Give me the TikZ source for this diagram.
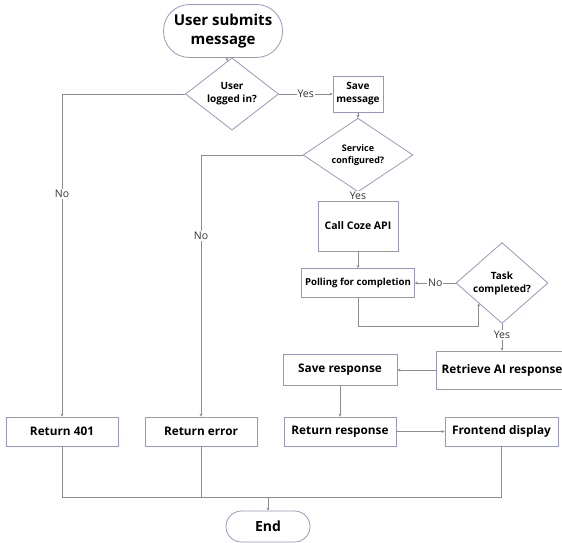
\documentclass[tikz,border=0pt]{standalone}
\usepackage{fontspec}
\setmainfont{Open Sans}
\usetikzlibrary{shapes.geometric,arrows.meta}
\definecolor{bord}{RGB}{150,152,190}
\definecolor{conn}{RGB}{140,140,150}
\begin{document}
\begin{tikzpicture}[x=1pt,y=-1pt,
  box/.style={draw=bord,line width=0.8pt,fill=white,rectangle,inner sep=0pt,align=center,font=\fontsize{11.8}{14}\selectfont\bfseries},
  dia/.style={draw=bord,line width=0.8pt,fill=white,diamond,inner sep=0pt,align=center,font=\fontsize{10}{13}\selectfont\bfseries},
  term/.style={draw=bord,line width=0.8pt,fill=white,rectangle,inner sep=0pt,align=center,font=\fontsize{15}{19}\selectfont\bfseries},
  line/.style={draw=conn,line width=0.7pt},
  arr/.style={line,-{Stealth[length=3pt,width=3pt]}},
  lab/.style={fill=white,inner sep=1pt,font=\fontsize{10.5}{13}\selectfont,text=black!80}]
\useasboundingbox (0,0) rectangle (562,543);
\clip (0,0) rectangle (562,543);
\node[term,minimum width=119pt,minimum height=53pt,rounded corners=26pt] (start) at (223,31) {User submits\\message};
\node[dia,minimum width=93pt,minimum height=60pt] (login) at (232,94) {User\\logged in?};
\node[box,minimum width=50pt,minimum height=36pt,font=\fontsize{10}{13}\selectfont\bfseries] (savemsg) at (358,94) {Save\\message};
\node[dia,minimum width=110pt,minimum height=46pt,font=\fontsize{9}{12}\selectfont\bfseries] (svc) at (358,155) {Service\\configured?};
\node[box,minimum width=80pt,minimum height=50pt,font=\fontsize{10.5}{13}\selectfont\bfseries] (call) at (358,226) {Call Coze API};
\node[box,minimum width=113pt,minimum height=29pt,font=\fontsize{9.6}{12}\selectfont\bfseries] (poll) at (358,283) {Polling for completion};
\node[dia,minimum width=92pt,minimum height=61pt] (task) at (502,283) {Task\\completed?};
\node[box,minimum width=132pt,minimum height=38pt] (retr) at (502,370) {Retrieve AI response};
\node[box,minimum width=114pt,minimum height=31pt] (saveresp) at (340,370) {Save response};
\node[box,minimum width=112pt,minimum height=29pt] (retresp) at (340,431.5) {Return response};
\node[box,minimum width=113pt,minimum height=29pt] (front) at (501.5,431.5) {Frontend display};
\node[box,minimum width=112pt,minimum height=29pt] (r401) at (62,431.5) {Return 401};
\node[box,minimum width=112pt,minimum height=29pt] (rerr) at (201,431.5) {Return error};
\node[term,minimum width=84pt,minimum height=31pt,rounded corners=15.5pt,font=\fontsize{14}{17}\selectfont\bfseries] (end) at (268,526.5) {End};
\coordinate (j) at (268,497);
\draw[arr] (start) -- (login);
\draw[arr] (login.east) -- node[lab] {Yes} (savemsg.west);
\draw[arr] (login.west) -| node[lab,pos=0.655] {No} (r401.north);
\draw[arr] (savemsg) -- (svc);
\draw[arr] (svc.west) -| node[lab,pos=0.655] {No} (rerr.north);
\draw[arr] (svc.south) -- node[lab,pos=0.42] {Yes} (call.north);
\draw[arr] (call) -- (poll);
\draw[arr] (task.west) -- node[lab] {No} (poll.east);
\draw[arr] (poll.south) -- (358,326) -| (task.south west);
\draw[arr] (task.south) -- node[lab,pos=0.42] {Yes} (retr.north);
\draw[arr] (retr.west) -- (saveresp.east);
\draw[arr] (saveresp.south) -- (retresp.north);
\draw[arr] (retresp.east) -- (front.west);
\draw[line] (r401.south) |- (j);
\draw[line] (rerr.south) |- (j);
\draw[line] (front.south) |- (j);
\draw[arr] (j) -- (end.north);
\end{tikzpicture}
\end{document}
